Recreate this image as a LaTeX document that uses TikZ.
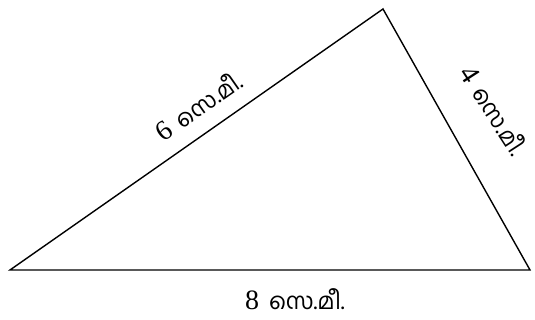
\documentclass[tikz,border=0pt]{standalone}
\usepackage{fontspec}
\setmainfont{Liberation Serif}
\newfontfamily\ml[Script=Malayalam]{Hind Kochi}
\newcommand{\mlsize}{\fontsize{23}{26}\selectfont}
\tikzset{
  side/.style={draw=black, line width=1.4pt, line join=miter},
  lbl/.style={font=\fontsize{28}{30}\selectfont, inner sep=0pt},
}
\begin{document}
\begin{tikzpicture}[x=1pt,y=1pt]
\useasboundingbox (0,0) rectangle (535,320);
\coordinate (A) at (10,50);
\coordinate (B) at (383,311);
\coordinate (C) at (530,50);
\draw[side] (A) -- (B) -- (C) -- cycle;
\node[lbl, rotate=35] (l6) at (198,214) {6\hspace{0.35em}{\ml\mlsize സെ.മീ.}};
\node[lbl, rotate=-57] (l4) at (494,210) {4\hspace{0.35em}{\ml\mlsize സെ.മീ.}};
\node[lbl, anchor=base] (l8) at (295,10) {8\hspace{0.35em}{\ml\mlsize സെ.മീ.}};
\end{tikzpicture}
\end{document}
